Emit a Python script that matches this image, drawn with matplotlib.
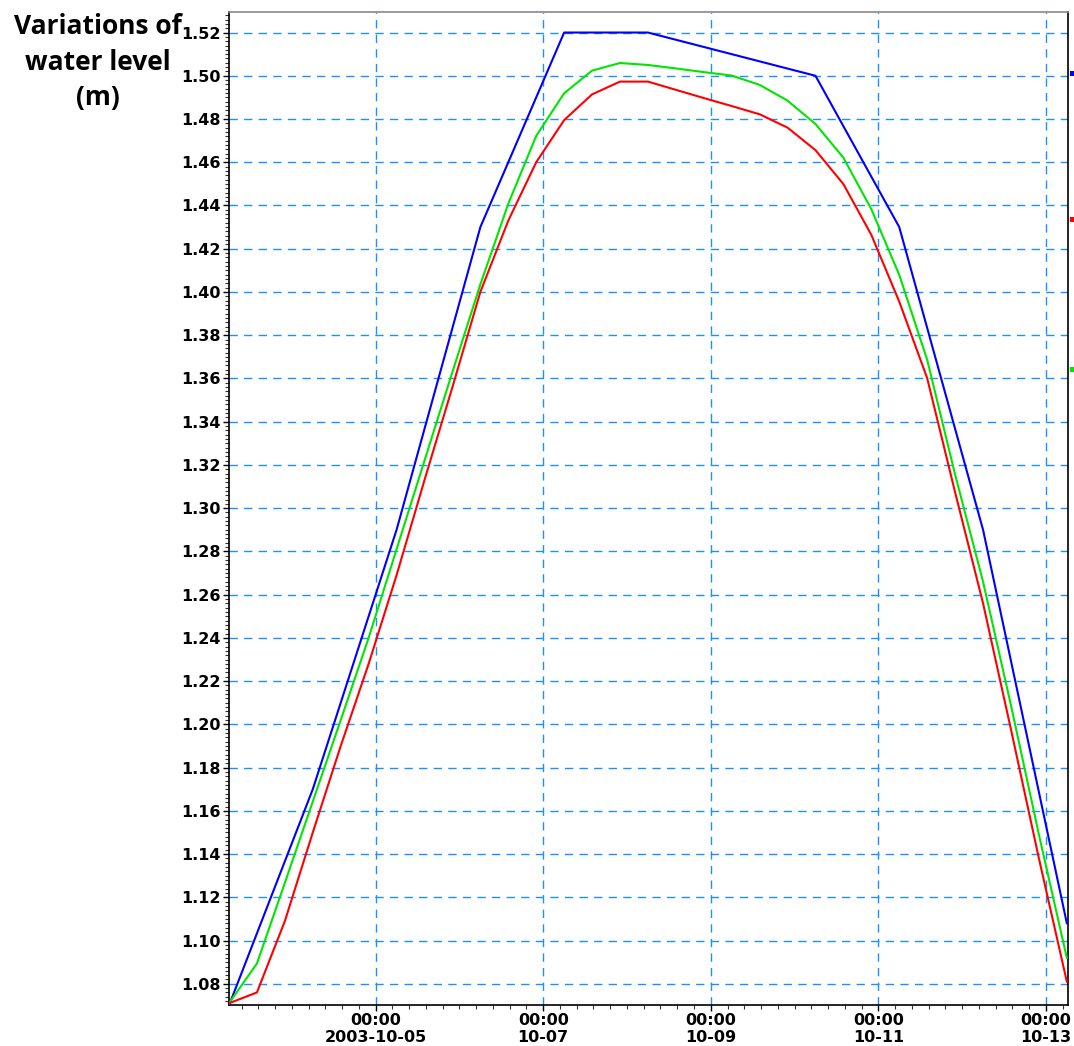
import numpy as np
import matplotlib
matplotlib.use("Agg")
import matplotlib.pyplot as plt
import matplotlib.dates as mdates
from matplotlib.ticker import MultipleLocator, FixedLocator
from matplotlib.patches import Rectangle
import pandas as pd

# ---------------- data ----------------
start_time = "2003-10-03 06:00"
blue_level = [1.070, 1.170, 1.290, 1.430, 1.520, 1.520, 1.510, 1.500, 1.430, 1.290, 1.108]
red_level = [1.071, 1.076, 1.109, 1.150, 1.190, 1.228, 1.269, 1.313, 1.356, 1.400,
             1.433, 1.460, 1.4795, 1.4914, 1.4973, 1.4973, 1.4935, 1.4897, 1.486, 1.4822,
             1.476, 1.4656, 1.4499, 1.4264, 1.3955, 1.3601, 1.3073, 1.256, 1.1976, 1.138,
             1.081]
green_level = [1.071, 1.0894, 1.1267, 1.1643, 1.202, 1.240, 1.281, 1.322, 1.363, 1.4035,
               1.4408, 1.4722, 1.4919, 1.5024, 1.5059, 1.505, 1.5034, 1.5017, 1.5001, 1.4958,
               1.4885, 1.4777, 1.4621, 1.4383, 1.4079, 1.3686, 1.3155, 1.266, 1.2088, 1.149,
               1.092]
x_tick_dates = ["2003-10-05", "2003-10-07", "2003-10-09", "2003-10-11", "2003-10-13"]
x_tick_labels = ["00:00\n2003-10-05", "00:00\n10-07", "00:00\n10-09", "00:00\n10-11", "00:00\n10-13"]
y_ticks = [1.08, 1.10, 1.12, 1.14, 1.16, 1.18, 1.20, 1.22, 1.24, 1.26, 1.28, 1.30, 1.32,
           1.34, 1.36, 1.38, 1.40, 1.42, 1.44, 1.46, 1.48, 1.50, 1.52]
title_text = "Variations of\nwater level\n(m)"

blue_time = pd.date_range(start_time, periods=len(blue_level), freq="24h")
red_time = pd.date_range(start_time, periods=len(red_level), freq="8h")
green_time = pd.date_range(start_time, periods=len(green_level), freq="8h")

# ---------------- figure ----------------
W, H = 1074, 1046
fig = plt.figure(figsize=(W / 100, H / 100), dpi=100)
ax = fig.add_axes([229 / W, 1 - 1005 / H, (1068 - 229) / W, (1005 - 12) / H])

grid_color = "#1e8fff"
ax.plot(blue_time, blue_level, color="#0000ff", lw=1.5, zorder=3)
ax.plot(green_time, green_level, color="#00e600", lw=1.5, zorder=3)
ax.plot(red_time, red_level, color="#ff0000", lw=1.5, zorder=3)

ax.set_xlim(pd.Timestamp(start_time), pd.Timestamp("2003-10-13 06:20"))
ax.set_ylim(1.0702, 1.5295)

ax.xaxis.set_major_locator(FixedLocator(mdates.date2num(pd.to_datetime(x_tick_dates))))
ax.set_xticklabels(x_tick_labels, fontsize=11.5, fontweight="bold", linespacing=1.1)
ax.xaxis.set_minor_locator(MultipleLocator(0.2))
ax.set_yticks(y_ticks)
ax.set_yticklabels([f"{v:.2f}" for v in y_ticks], fontsize=11.5, fontweight="bold")
ax.yaxis.set_minor_locator(MultipleLocator(0.002))

ax.tick_params(axis="both", which="major", direction="out", length=4, width=1, color="black", pad=2)
ax.tick_params(axis="both", which="minor", direction="out", length=3, width=0.8, color="#333333")

ax.grid(True, which="major", color=grid_color, linestyle=(0, (6, 4.5)), linewidth=1, zorder=1)

for s in ["left", "bottom", "right"]:
    ax.spines[s].set_color("black")
    ax.spines[s].set_linewidth(1.2)
ax.spines["top"].set_color("#888888")
ax.spines["top"].set_linewidth(1.2)

fig.text(98 / W, 1 - 62 / H, title_text, ha="center", va="center", fontsize=19,
         fontweight="bold", family="Open Sans", linespacing=1.4)

# truncated legend markers at right edge
for col, yc in [("#0000ff", 73), ("#ff0000", 219), ("#00e600", 369)]:
    fig.add_artist(Rectangle((1070 / W, 1 - (yc + 2.5) / H), 5 / W, 5 / H,
                             transform=fig.transFigure, color=col, lw=0))

fig.savefig("out.png", dpi=100)
